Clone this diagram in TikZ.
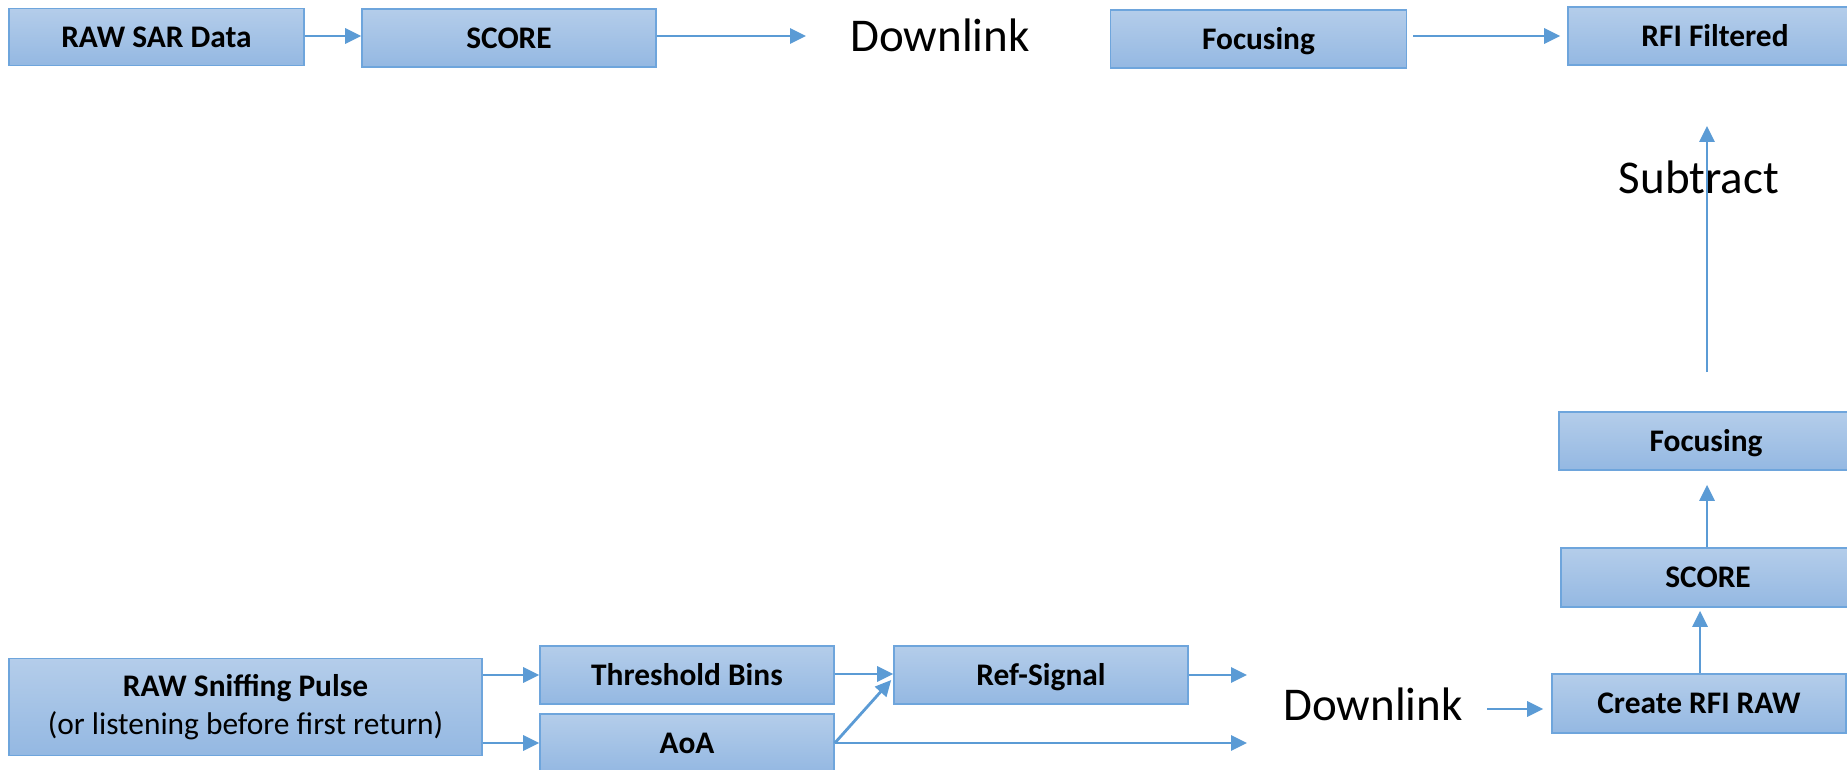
\documentclass[tikz,border=0pt]{standalone}
\usepackage{fontspec}
\setmainfont{Carlito}
\usetikzlibrary{arrows.meta,calc}
\definecolor{boxtop}{RGB}{180,205,234}
\definecolor{boxbot}{RGB}{148,184,226}
\definecolor{boxline}{RGB}{110,165,220}
\definecolor{arr}{RGB}{91,155,213}
\tikzset{
  box/.style={draw=boxline, line width=1.6pt, top color=boxtop, bottom color=boxbot,
    minimum width=294pt, minimum height=58pt, inner sep=0pt,
    font=\fontsize{31.4}{38.3}\selectfont\bfseries, text height=20.2pt, text depth=0pt},
  big/.style={inner sep=0pt, anchor=base, font=\fontsize{47}{56}\selectfont},
  conn/.style={draw=arr, line width=2.8pt, -{Triangle[length=16pt,width=15pt]}},
}
\begin{document}
\begin{tikzpicture}[x=1pt,y=-1pt]
\clip (0,0) rectangle (1847,770);
\fill[white] (0,0) rectangle (1847,770);
% top row
\node[box, minimum width=295pt, minimum height=57pt] (rawsar) at (156.5,37) {RAW SAR Data};
\node[box] (score1) at (509,38) {SCORE};
\node[big] (dl1) at (940,52) {Downlink};
\node[box, minimum width=296pt] (focus1) at (1258.5,39) {Focusing};
\node[box] (rfif) at (1715,36) {RFI Filtered};
\coordinate (e1) at (806,36);
\draw[conn] (rawsar.east |- 0,36) -- (score1.west |- 0,36);
\draw[conn] (score1.east |- 0,36) -- (e1);
\draw[conn, shorten <=6pt, shorten >=7pt] (focus1.east |- 0,36) -- (rfif.west |- 0,36);
% right column
\node[box, minimum height=59pt] (create) at (1699,703.5) {Create RFI RAW};
\node[box, minimum height=59pt] (score2) at (1708,577.5) {SCORE};
\node[box] (focus2) at (1706,441) {Focusing};
\node[big] (sub) at (1699,194) {Subtract};
\coordinate (s1) at (1707,372);
\coordinate (s2) at (1707,126);
\draw[conn, shorten >=3pt] (create.north -| 1700,0) -- (score2.south -| 1700,0);
\draw[conn, shorten >=14pt] (score2.north -| 1707,0) -- (focus2.south -| 1707,0);
\draw[conn] (s1) -- (s2);
% bottom row
\node[box, minimum width=473pt, minimum height=97pt, align=center, text height={}, text depth={}] (sniff) at (245.5,707)
  {RAW Sniffing Pulse\\{\mdseries (or listening before first return)}};
\node[box] (thresh) at (687,675) {Threshold Bins};
\node[box] (aoa) at (687,743) {AoA};
\node[box] (ref) at (1041,675) {Ref-Signal};
\node[big] (dl2) at (1373,720) {Downlink};
\coordinate (e2) at (1247,675);
\coordinate (e3) at (1247,743);
\coordinate (d2) at (1487,709);
\draw[conn] (sniff.east |- 0,675) -- (thresh.west |- 0,675);
\draw[conn] (sniff.east |- 0,743) -- (aoa.west |- 0,743);
\draw[conn] (thresh.east |- 0,674) -- (ref.west |- 0,674);
\draw[conn] (aoa.east |- 0,743) -- ($(ref.west |- 0,680)+(-2,0)$);
\draw[conn] (ref.east |- 0,675) -- (e2);
\draw[conn] (aoa.east |- 0,743) -- (e3);
\draw[conn, shorten >=8pt] (d2) -- (create.west |- 0,709);
\end{tikzpicture}
\end{document}
